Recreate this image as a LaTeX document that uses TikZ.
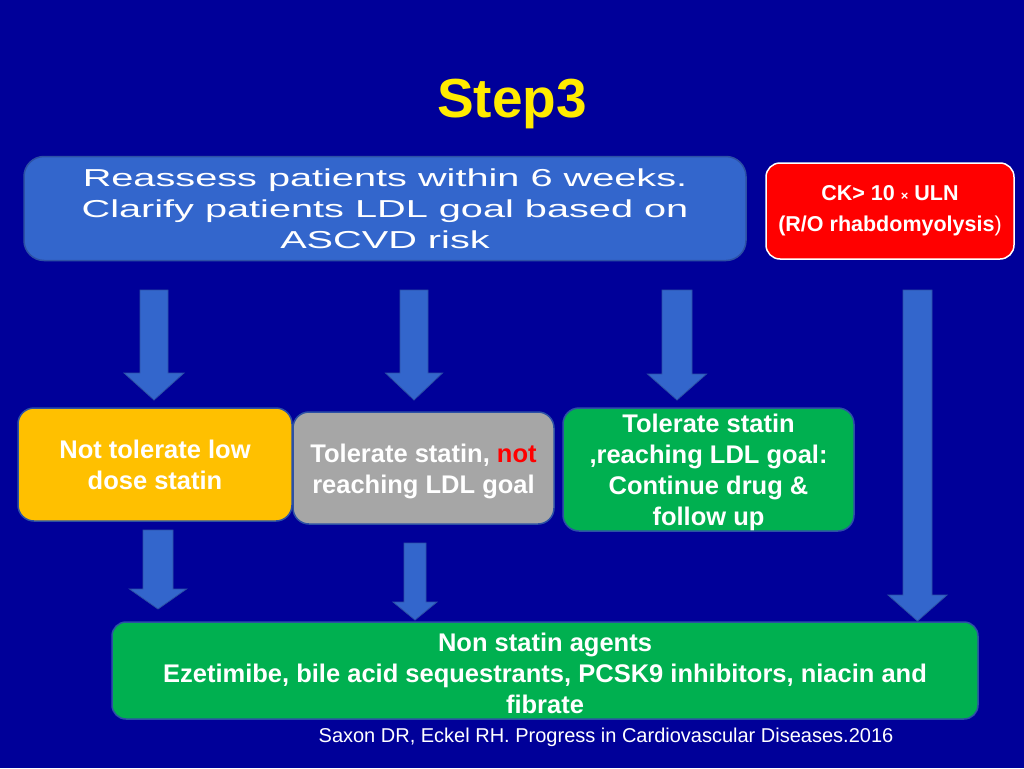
\documentclass[tikz,border=0pt]{standalone}
\usepackage{fontspec}
\setmainfont{Liberation Sans}
\newfontfamily\widefont[FakeStretch=1.62]{Liberation Sans}
\definecolor{bg}{RGB}{0,0,153}
\definecolor{boxblue}{RGB}{51,102,204}
\definecolor{edgeblue}{RGB}{44,80,165}
\definecolor{ylw}{RGB}{255,192,0}
\definecolor{gry}{RGB}{166,166,166}
\definecolor{grn}{RGB}{0,176,80}
\definecolor{ttl}{RGB}{255,235,0}
\definecolor{ckred}{RGB}{255,0,0}
\newcommand\blockarr[7]{% name, cx, shaft half width, head half width, top, head base, tip
  \coordinate (#1s) at (#2,#5);
  \coordinate (#1e) at (#2,#7);
  \draw[barrow] ({#2-#3},#5) -- ({#2+#3},#5) -- ({#2+#3},#6) -- ({#2+#4},#6)
    -- (#1e) -- ({#2-#4},#6) -- ({#2-#3},#6) -- cycle;}
\begin{document}
\begin{tikzpicture}[x=1pt,y=-1pt,
  box/.style={rounded corners=16pt, draw=edgeblue, line width=1.5pt, text=white,
    align=center, inner sep=0pt, font=\bfseries\fontsize{25.5}{31}\selectfont},
  boxtext/.style={text=white, align=center, inner sep=0pt, font=\bfseries\fontsize{25.5}{31}\selectfont},
  barrow/.style={fill=boxblue, draw=edgeblue, line width=0.8pt}]
\fill[bg] (0,0) rectangle (1024,768);
\useasboundingbox (0,0) rectangle (1024,768);

\node[text=ttl, font=\bfseries\fontsize{55}{60}\selectfont, anchor=base] (title) at (512,117) {Step3};

\node[box, fill=boxblue, rounded corners=20pt, minimum width=722pt, minimum height=104pt,
  font=\widefont\fontsize{24.5}{31}\selectfont] (top) at (385,208.5)
  {Reassess patients within 6 weeks.\\Clarify patients LDL goal based on\\ASCVD risk};

\node[box, fill=ckred, draw=white, rounded corners=14pt, minimum width=248pt, minimum height=96pt,
  font=\bfseries\fontsize{21.5}{31}\selectfont] (ck) at (890,211)
  {CK> 10 {\fontsize{13}{13}\selectfont ×} ULN\\(R/O rhabdomyolysis{\mdseries )}};

\node[box, fill=ylw, minimum width=274pt, minimum height=113pt] (yel) at (155,464.5)
  {Not tolerate low\\dose statin};

\node[box, fill=gry, minimum width=261pt, minimum height=112pt] (gray) at (423.5,468) {};
\node[boxtext] (graytxt) at (423.5,471)
  {Tolerate statin, \textcolor{ckred}{not}\\reaching LDL goal};

\node[box, fill=grn, minimum width=291pt, minimum height=123pt] (ok) at (708.5,469.5) {};
\node[boxtext] (oktxt) at (708.5,472.5)
  {Tolerate statin\\,reaching LDL goal:\\Continue drug \&\\follow up};

\node[box, fill=grn, rounded corners=14pt, minimum width=866pt, minimum height=97pt] (non) at (545,670.5) {};
\node[boxtext] (nontxt) at (545,673)
  {Non statin agents\\Ezetimibe, bile acid sequestrants, PCSK9 inhibitors, niacin and\\fibrate};

\node[text=white, font=\fontsize{20}{24}\selectfont] (ref) at (606,737)
  {Saxon DR, Eckel RH. Progress in Cardiovascular Diseases.2016};

\blockarr{a1}{154}{14}{30}{290}{373}{400}
\blockarr{a2}{414}{14}{28.5}{290}{373}{400}
\blockarr{a3}{677}{15}{29.5}{290}{374}{400}
\blockarr{a4}{917.5}{14.5}{29.5}{290}{595}{621}
\blockarr{a5}{158}{15}{28.5}{530}{589}{609}
\blockarr{a6}{415}{11}{22}{543}{602}{620}
\end{tikzpicture}
\end{document}
